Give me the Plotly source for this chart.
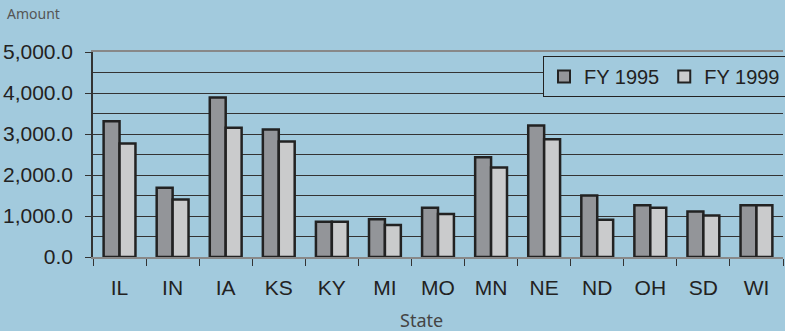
import plotly.graph_objects as go

states = ["IL", "IN", "IA", "KS", "KY", "MI", "MO", "MN", "NE", "ND", "OH", "SD", "WI"]
fy1995 = [3310, 1690, 3890, 3110, 860, 920, 1200, 2430, 3210, 1500, 1260, 1110, 1260]
fy1999 = [2770, 1400, 3150, 2820, 860, 780, 1050, 2180, 2870, 910, 1200, 1010, 1260]
ytick_vals = [0, 1000, 2000, 3000, 4000, 5000]
ytick_text = ["0.0", "1,000.0", "2,000.0", "3,000.0", "4,000.0", "5,000.0"]

BG = "#a2cadd"
W, H = 785, 331
L, R, T, B = 93, 2, 52, 74
pw, ph = W - L - R, H - T - B

fig = go.Figure()
fig.add_trace(go.Bar(name="FY 1995", x=states, y=fy1995,
                     marker=dict(color="#939599", line=dict(color="#222222", width=2.5))))
fig.add_trace(go.Bar(name="FY 1999", x=states, y=fy1999,
                     marker=dict(color="#cacbcc", line=dict(color="#222222", width=2.5))))

fig.update_layout(
    width=W, height=H,
    margin=dict(l=L, r=R, t=T, b=B, autoexpand=False),
    paper_bgcolor=BG, plot_bgcolor=BG,
    barmode="group", bargap=0.4, bargroupgap=0,
    font=dict(family="Liberation Sans, Arial, sans-serif", size=20, color="#222222"),
    showlegend=True,
    legend=dict(orientation="h", x=(786 - L) / pw, y=(H - B - 56) / ph,
                xanchor="right", yanchor="top",
                bgcolor=BG, bordercolor="#222222", borderwidth=1,
                font=dict(size=20, color="#222222"),
                itemwidth=30, tracegroupgap=0,
                itemsizing="constant", traceorder="normal"),
)
fig.update_xaxes(
    showgrid=False, showline=True, linecolor="#888888", linewidth=2, mirror=True,
    ticks="outside", tickson="boundaries", ticklen=7, tickcolor="#333333",
    tickfont=dict(size=21, color="#222222"), ticklabelstandoff=11,
)
fig.update_yaxes(
    range=[0, 5000], tickvals=ytick_vals, ticktext=ytick_text,
    showgrid=True, gridcolor="#333333", gridwidth=1,
    minor=dict(dtick=500, showgrid=True, gridcolor="#333333", gridwidth=1),
    showline=True, linecolor="#333333", linewidth=1.5,
    ticks="outside", ticklen=6, tickcolor="#333333",
    tickfont=dict(size=21, color="#222222"), ticklabelstandoff=8,
    zeroline=False,
)
fig.add_annotation(text="Amount", xref="paper", yref="paper",
                   x=(5 - L) / pw, y=(H - B - 13) / ph, xanchor="left", yanchor="middle",
                   showarrow=False, font=dict(family="Noto Sans, sans-serif", size=14, color="#555555"))
fig.add_annotation(text="State", xref="paper", yref="paper",
                   x=(421 - L) / pw, y=(H - B - 320) / ph, xanchor="center", yanchor="middle",
                   showarrow=False, font=dict(family="Noto Sans, sans-serif", size=18, color="#444444"))

fig.write_html("out.html")
